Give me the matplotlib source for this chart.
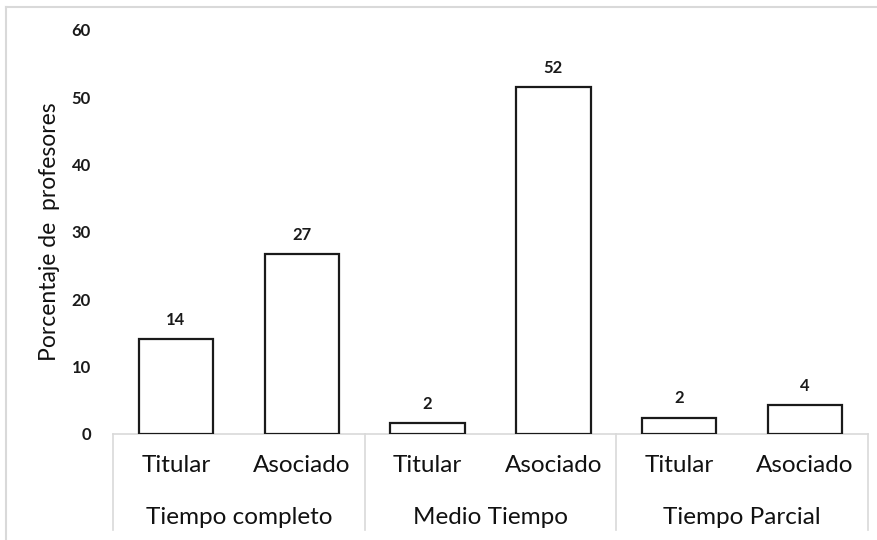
import matplotlib
matplotlib.use('Agg')
import matplotlib.pyplot as plt
import matplotlib.transforms as mtransforms
import numpy as np

plt.rcParams['font.family'] = ['Lato', 'DejaVu Sans']

groups = ['Tiempo completo', 'Medio Tiempo', 'Tiempo Parcial']
ranks = ['Titular', 'Asociado']
values = [14.1, 26.7, 1.6, 51.5, 2.4, 4.3]
shown = ['14', '27', '2', '52', '2', '4']

fig = plt.figure(figsize=(8.78, 5.4), dpi=100)
ax = fig.add_axes([113/878, 1-434/540, 755/878, 404/540])

x = np.arange(len(values))
ax.bar(x, values, width=0.59, color='white', edgecolor='#1a1a1a', linewidth=1.6, zorder=3)
for xi, v, s in zip(x, values, shown):
    ax.text(xi, v + 1.7, s, ha='center', va='bottom', fontsize=12,
            fontweight='bold', color='#1a1a1a')

ax.set_xlim(-0.5, len(values) - 0.5)
ax.set_ylim(0, 60)
ax.set_yticks(range(0, 61, 10))
ax.tick_params(axis='y', length=0, pad=16, labelsize=12, labelcolor='#1a1a1a')
for lab in ax.get_yticklabels():
    lab.set_fontweight('bold')
ax.set_xticks([])
for sp in ['top', 'right', 'left']:
    ax.spines[sp].set_visible(False)
ax.spines['bottom'].set_color('#d9d9d9')
ax.spines['bottom'].set_linewidth(1.2)
ax.set_ylabel('Porcentaje de  profesores', fontsize=16.5, color='#111111', labelpad=8)

# two-level category axis
trans = mtransforms.blended_transform_factory(ax.transData, ax.transAxes)
for i, xi in enumerate(x):
    ax.text(xi, -31/404, ranks[i % 2], transform=trans, ha='center', va='center',
            fontsize=17.5, color='#111111')
for g, name in enumerate(groups):
    ax.text(2*g + 0.5, -83/404, name, transform=trans, ha='center', va='center',
            fontsize=17.5, color='#111111')
for b in [-0.5, 1.5, 3.5, 5.5]:
    ax.plot([b, b], [0, -96/404], transform=trans, color='#d9d9d9', lw=1.2, clip_on=False)

# outer chart border
fig.add_artist(plt.Line2D([6/878, 1], [1-7/540, 1-7/540], color='#d9d9d9', lw=1.5))
fig.add_artist(plt.Line2D([6/878, 6/878], [1-7/540, 0], color='#d9d9d9', lw=1.5))

fig.savefig('out.png', dpi=100)
